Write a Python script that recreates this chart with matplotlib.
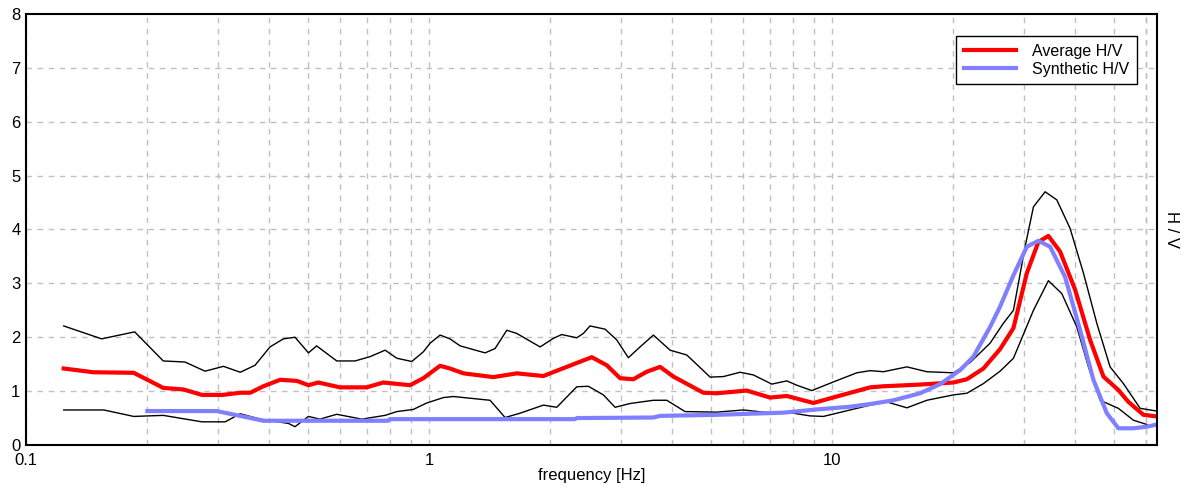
import matplotlib.pyplot as plt
from matplotlib.ticker import FixedLocator, NullLocator, FixedFormatter

plt.rcParams['font.family'] = ['Liberation Sans', 'DejaVu Sans']

# upper bound (average + std)
hi_f = [0.124, 0.154, 0.186, 0.219, 0.248, 0.278, 0.309, 0.340, 0.370, 0.403, 0.435, 0.465,
        0.502, 0.526, 0.590, 0.655, 0.714, 0.778, 0.832, 0.906, 0.968, 1.006, 1.065, 1.127,
        1.194, 1.377, 1.458, 1.559, 1.651, 1.886, 2.034, 2.134, 2.325, 2.414, 2.508, 2.733,
        2.922, 3.122, 3.338, 3.602, 3.963, 4.360, 4.982, 5.375, 5.911, 6.379, 7.085, 7.720,
        8.173, 8.905, 10.07, 11.52, 12.43, 13.41, 15.33, 17.18, 20.00, 22.00, 24.66, 26.61,
        28.18, 30.12, 31.59, 33.77, 36.10, 38.95, 42.04, 45.37, 48.95, 52.82, 58.12, 63.93]
hi_v = [2.21, 1.97, 2.10, 1.56, 1.54, 1.37, 1.46, 1.35, 1.48, 1.82, 1.97, 2.00,
        1.71, 1.84, 1.56, 1.56, 1.64, 1.76, 1.61, 1.55, 1.73, 1.89, 2.04, 1.97,
        1.84, 1.71, 1.79, 2.13, 2.07, 1.82, 1.98, 2.05, 1.99, 2.07, 2.21, 2.15,
        1.95, 1.62, 1.82, 2.04, 1.76, 1.67, 1.26, 1.27, 1.35, 1.30, 1.13, 1.19,
        1.11, 1.01, 1.17, 1.34, 1.38, 1.36, 1.45, 1.36, 1.34, 1.53, 1.89, 2.26,
        2.50, 3.68, 4.42, 4.70, 4.55, 4.02, 3.19, 2.26, 1.45, 1.14, 0.68, 0.63]

# average H/V
avg_f = [0.124, 0.147, 0.185, 0.219, 0.246, 0.273, 0.308, 0.340, 0.360, 0.388, 0.427, 0.470,
         0.502, 0.531, 0.601, 0.700, 0.770, 0.897, 0.968, 1.065, 1.127, 1.217, 1.444, 1.651,
         1.921, 2.196, 2.533, 2.760, 2.978, 3.212, 3.469, 3.743, 4.039, 4.794, 5.176, 6.142,
         7.017, 7.720, 8.987, 10.27, 12.43, 13.41, 16.37, 20.00, 21.59, 23.74, 26.11, 28.18,
         30.42, 32.50, 34.41, 36.79, 40.09, 43.67, 47.12, 51.33, 54.35, 59.23, 63.93]
avg_v = [1.42, 1.35, 1.34, 1.06, 1.03, 0.93, 0.93, 0.97, 0.97, 1.09, 1.21, 1.19,
         1.11, 1.16, 1.07, 1.07, 1.16, 1.11, 1.24, 1.47, 1.42, 1.33, 1.26, 1.33,
         1.28, 1.45, 1.63, 1.48, 1.24, 1.22, 1.36, 1.45, 1.27, 0.97, 0.96, 1.01,
         0.88, 0.91, 0.78, 0.90, 1.07, 1.09, 1.12, 1.16, 1.22, 1.42, 1.78, 2.17,
         3.19, 3.77, 3.88, 3.59, 2.88, 1.95, 1.27, 1.02, 0.80, 0.56, 0.53]

# lower bound (average - std)
lo_f = [0.124, 0.156, 0.185, 0.219, 0.273, 0.312, 0.340, 0.381, 0.448, 0.465, 0.502, 0.536,
        0.590, 0.681, 0.778, 0.832, 0.914, 0.987, 1.085, 1.149, 1.417, 1.544, 1.682, 1.921,
        2.074, 2.325, 2.484, 2.707, 2.894, 3.153, 3.602, 3.889, 4.317, 5.176, 6.024, 6.753,
        8.017, 8.819, 9.515, 11.08, 12.43, 13.67, 15.33, 17.18, 20.00, 21.59, 23.74, 26.11,
        28.18, 31.59, 34.41, 37.15, 40.48, 43.25, 46.24, 51.33, 55.93, 60.39]
lo_v = [0.65, 0.65, 0.53, 0.55, 0.43, 0.43, 0.58, 0.48, 0.40, 0.34, 0.53, 0.48,
        0.57, 0.48, 0.55, 0.62, 0.66, 0.78, 0.88, 0.90, 0.83, 0.51, 0.59, 0.74,
        0.70, 1.08, 1.09, 0.93, 0.70, 0.77, 0.83, 0.83, 0.62, 0.61, 0.65, 0.61,
        0.59, 0.54, 0.53, 0.65, 0.74, 0.80, 0.69, 0.83, 0.93, 0.96, 1.14, 1.37,
        1.61, 2.50, 3.05, 2.81, 2.19, 1.45, 0.83, 0.68, 0.46, 0.38]

# synthetic H/V
syn_f = [0.200, 0.297, 0.340, 0.388, 0.790, 0.800, 2.30, 2.33, 3.60, 3.74, 5.18, 7.57,
         9.16, 11.08, 12.43, 14.20, 16.53, 18.54, 20.78, 22.42, 24.66, 26.11, 28.18, 30.42,
         32.50, 34.75, 37.85, 41.25, 44.50, 48.04, 51.33, 55.93, 60.39, 63.93]
syn_v = [0.63, 0.63, 0.54, 0.45, 0.45, 0.48, 0.48, 0.50, 0.51, 0.54, 0.56, 0.60,
         0.66, 0.71, 0.76, 0.83, 0.96, 1.13, 1.39, 1.64, 2.19, 2.57, 3.15, 3.68,
         3.79, 3.68, 3.12, 2.13, 1.21, 0.59, 0.31, 0.31, 0.34, 0.38]

fig = plt.figure(figsize=(11.89, 4.91), dpi=100)
ax = fig.add_axes([0.0219, 0.0937, 0.9512, 0.8778])

ax.plot(hi_f, hi_v, color="black", lw=1.0)
ax.plot(lo_f, lo_v, color="black", lw=1.0)
ax.plot(avg_f, avg_v, color="#ff0000", lw=3, label="Average H/V")
ax.plot(syn_f, syn_v, color="#8080ff", lw=3, label="Synthetic H/V")

ax.set_xscale("log")
ax.set_xlim(0.1, 64)
ax.set_ylim(0, 8)

grid_x = [m * 10.0 ** e for e in (-1, 0, 1) for m in range(1, 10)] + [60]
ax.xaxis.set_major_locator(FixedLocator([0.1, 1, 10]))
ax.xaxis.set_major_formatter(FixedFormatter(["0.1", "1", "10"]))
ax.xaxis.set_minor_locator(NullLocator())
for gx in grid_x:
    ax.axvline(gx, color="#c0c0c0", lw=1, ls=(0, (4, 4)), zorder=0)
for gy in range(1, 8):
    ax.axhline(gy, color="#c0c0c0", lw=1, ls=(0, (4, 4)), zorder=0)

ax.set_yticks(range(0, 9))
ax.tick_params(length=0, labelsize=12, pad=4)
ax.tick_params(axis="x", pad=6)

for s in ax.spines.values():
    s.set_linewidth(1.5)

ax.set_xlabel("frequency [Hz]", fontsize=12, labelpad=0)
ax.yaxis.set_label_position("right")
ax.set_ylabel("H / V", fontsize=12, rotation=270, labelpad=16)

leg = ax.legend(loc="upper right", bbox_to_anchor=(0.982, 0.948), fontsize=11.5,
                fancybox=False, framealpha=1, edgecolor="black", borderpad=0.45,
                handlelength=3.3, handletextpad=1.0, labelspacing=0.2, borderaxespad=0)
leg.get_frame().set_linewidth(1)

fig.savefig("out.png", dpi=100)
